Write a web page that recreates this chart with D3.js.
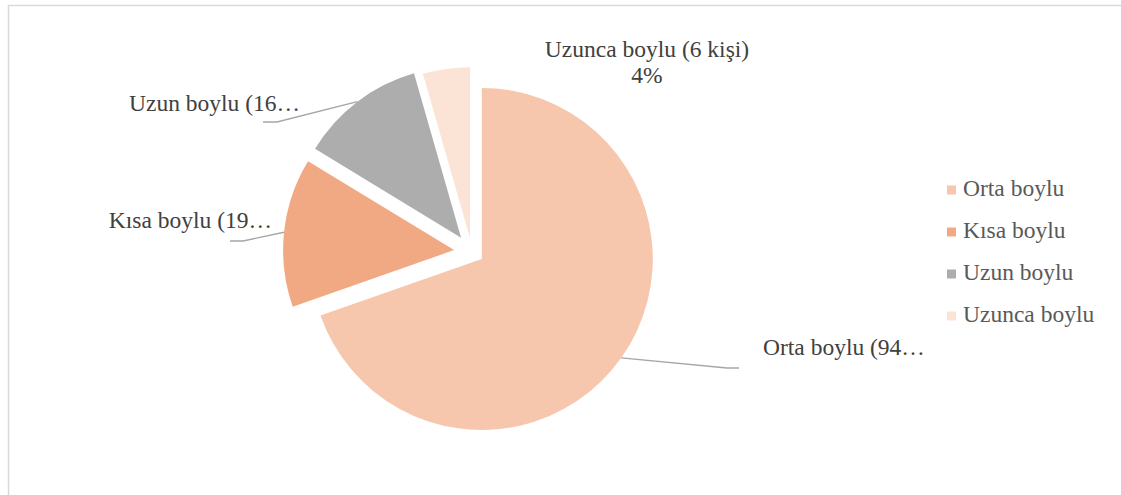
<!DOCTYPE html>
<html>
<head>
<meta charset="utf-8">
<script src="https://cdn.jsdelivr.net/npm/d3@7"></script>
<style>
  html, body { margin: 0; padding: 0; background: #fff; }
  svg { display: block; font-family: "Liberation Serif", "Times New Roman", serif; }
</style>
</head>
<body>
<svg id="chart" width="1121" height="495"></svg>
<script>
  // chart data
  var categories = ['Orta boylu', 'Kısa boylu', 'Uzun boylu', 'Uzunca boylu'];
  var counts = [94, 19, 16, 6];
  var colors = ['#F6C6AD', '#F1A983', '#ADADAD', '#FBE3D6'];

  // layout
  var W = 1121, H = 495;
  var cx = 472, cy = 252, radius = 171;
  var explode = [12, 18, 18, 14];
  var fontSize = 23.5;

  // data label placement (Excel moved them by hand)
  var labelSpots = [
    { x: 763, y: 355, anchor: 'start', elbow: [727, 368], end: [739, 368], truncate: true },
    { x: 272, y: 228, anchor: 'end', elbow: [243, 241], end: [230, 241], truncate: true },
    { x: 300, y: 111, anchor: 'end', elbow: [277, 122], end: [263, 122], truncate: true },
    { x: 647, y: 57, anchor: 'middle', elbow: null, end: null, truncate: false }
  ];

  var svg = d3.select('#chart');

  // chart area frame
  svg.append('rect')
    .attr('x', 8.5).attr('y', 5.5)
    .attr('width', 1300).attr('height', 700)
    .attr('fill', '#fff')
    .attr('stroke', '#D9D9D9')
    .attr('stroke-width', 1.5);

  var total = d3.sum(counts);
  var rows = categories.map(function(c, i) {
    return { name: c, value: counts[i], color: colors[i], i: i };
  });

  var pie = d3.pie().value(function(d) { return d.value; }).sort(null);
  var arc = d3.arc().innerRadius(0).outerRadius(radius);
  var arcs = pie(rows);

  function unit(a) { return [Math.sin(a), -Math.cos(a)]; }

  var slices = svg.append('g').attr('class', 'slices');
  slices.selectAll('path')
    .data(arcs)
    .enter().append('path')
    .attr('d', arc)
    .attr('fill', function(d) { return d.data.color; })
    .attr('transform', function(d) {
      var m = (d.startAngle + d.endAngle) / 2, u = unit(m), e = explode[d.index];
      return 'translate(' + (cx + u[0] * e) + ',' + (cy + u[1] * e) + ')';
    });

  // data labels with leader lines
  var labels = svg.append('g').attr('class', 'labels');
  arcs.forEach(function(d) {
    var spot = labelSpots[d.index];
    var m = (d.startAngle + d.endAngle) / 2, u = unit(m), e = explode[d.index];
    var pct = Math.round(d.data.value / total * 100) + '%';
    var full = d.data.name + ' (' + d.data.value + ' kişi)';
    var shown = spot.truncate ? d.data.name + ' (' + d.data.value + '…' : full;

    if (spot.elbow) {
      var sx = cx + u[0] * (e + radius), sy = cy + u[1] * (e + radius);
      labels.append('path')
        .attr('d', d3.line()([[sx, sy], spot.elbow, spot.end]))
        .attr('fill', 'none')
        .attr('stroke', '#A6A6A6')
        .attr('stroke-width', 1.3);
    }

    labels.append('text')
      .attr('x', spot.x).attr('y', spot.y)
      .attr('text-anchor', spot.anchor)
      .attr('font-size', fontSize)
      .attr('fill', '#404040')
      .text(shown);
    if (!spot.truncate) {
      labels.append('text')
        .attr('x', spot.x).attr('y', spot.y + 26)
        .attr('text-anchor', spot.anchor)
        .attr('font-size', fontSize)
        .attr('fill', '#404040')
        .text(pct);
    }
  });

  // legend
  var legendY = d3.scalePoint().domain(categories).range([190, 316]);
  var legend = svg.append('g').attr('class', 'legend');
  var items = legend.selectAll('g')
    .data(rows)
    .enter().append('g')
    .attr('transform', function(d) { return 'translate(947,' + legendY(d.name) + ')'; });
  items.append('rect')
    .attr('x', 0).attr('y', -4.5)
    .attr('width', 9).attr('height', 9)
    .attr('fill', function(d) { return d.color; });
  items.append('text')
    .attr('x', 16).attr('y', 6)
    .attr('font-size', fontSize)
    .attr('fill', '#595959')
    .text(function(d) { return d.name; });
</script>
</body>
</html>
